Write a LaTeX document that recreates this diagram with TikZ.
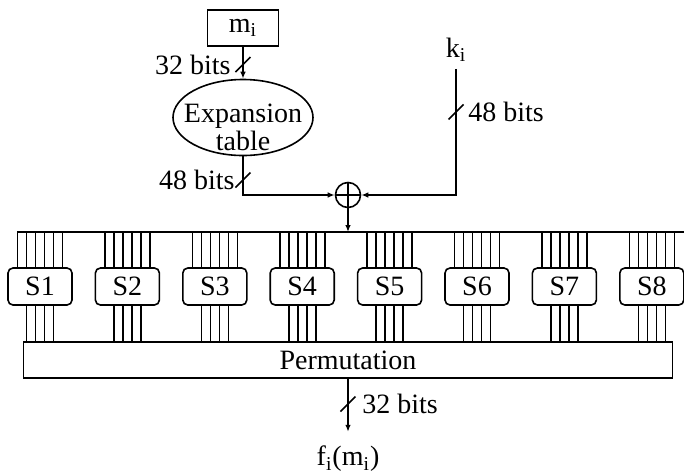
\documentclass[tikz,border=0pt]{standalone}
\usepackage{fontspec}
\setmainfont{Liberation Serif}
\usetikzlibrary{arrows.meta,positioning,shapes.geometric}
\tikzset{
  sbox/.style={draw, fill=white, rounded corners=2.5pt, minimum width=32pt, minimum height=18.5pt, inner sep=0pt, line width=0.8pt},
  plain/.style={draw, fill=white, inner sep=0pt, line width=0.8pt},
  table/.style={ellipse, draw, minimum width=70pt, minimum height=38pt, inner sep=0pt, line width=0.8pt},
  xorsym/.style={circle, draw, minimum size=12.5pt, inner sep=0pt, line width=0.8pt,
    path picture={\draw[line width=0.8pt] (path picture bounding box.north) -- (path picture bounding box.south)
      (path picture bounding box.west) -- (path picture bounding box.east);}},
  wire/.style={line width=0.8pt},
  arrow/.style={-{Latex[length=3.5pt,width=2.8pt]}, line width=0.8pt},
  bits/.style={inner sep=1pt}
}
\newcommand{\cutmark}[1]{\draw[wire] (#1) ++(-7.5,7.5) -- ++(15,-15);}

\begin{document}
\begin{tikzpicture}[x=0.5pt, y=-0.5pt, font=\fontsize{14}{16}\selectfont]
  \useasboundingbox (0,0) rectangle (684,472);

  % inputs
  \node[plain, minimum width=35.5pt, minimum height=18pt] (msg) at (243,28) {m\textsubscript{i}};
  \node[table, label={[align=center, font=\fontsize{14}{10.5}\selectfont, yshift=-5pt]center:Expansion\\table}] (exp) at (243,117.5) {};
  \node (key) at (456,50) {k\textsubscript{i}};
  \node[xorsym] (xor) at (348,195) {};

  \coordinate (cutA) at (243,64.5);
  \coordinate (cutB) at (243,180);
  \coordinate (cutC) at (456,112);
  \coordinate (cutD) at (348,404);

  \draw[arrow] (msg) -- (exp);
  \draw[arrow] (exp) |- (xor);
  \draw[arrow] (key) |- (xor);
  \cutmark{cutA}
  \cutmark{cutB}
  \cutmark{cutC}
  \node[bits, left=5pt of cutA] (inbits) {32 bits};
  \node[bits, left=3pt of cutB] (expbits) {48 bits};
  \node[bits, right=5pt of cutC] (keybits) {48 bits};

  % bus and s-boxes
  \coordinate (busL) at (17,232);
  \coordinate (busR) at (684,232);
  \draw[wire] (busL) -- (busR);
  \draw[arrow] (xor) -- (xor |- busL);

  \node[plain, minimum width=324.5pt, minimum height=18pt] (perm) at (348,360) {Permutation};

  \foreach \i in {1,...,8} {
    \node[sbox] (s\i) at ({40+87.4*(\i-1)},286.5) {S\i};
    \foreach \d in {-22.5,-13.5,...,22.5}
      \draw[wire] (s\i.north) ++(\d,0) -- ++(0,-36);
    \foreach \d in {-13.5,-4.5,4.5,13.5}
      \draw[wire] (s\i.south) ++(\d,0) -- ++(0,37);
  }

  % output
  \node[inner sep=1pt] (out) at (348,459) {f\textsubscript{i}(m\textsubscript{i})};
  \draw[arrow, shorten >=6pt] (perm) -- (out);
  \cutmark{cutD}
  \node[bits, right=6pt of cutD] (outbits) {32 bits};
\end{tikzpicture}
\end{document}
